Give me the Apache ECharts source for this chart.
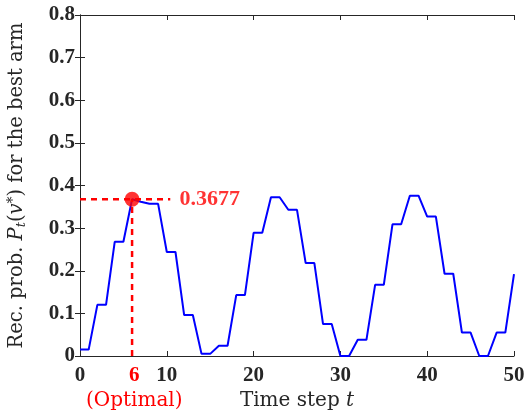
<!DOCTYPE html>
<html>
<head>
<meta charset="utf-8">
<script src="https://cdn.jsdelivr.net/npm/echarts@6/dist/echarts.min.js"></script>
<style>
  html, body { margin: 0; padding: 0; background: #fff; }
  #main { width: 528px; height: 411px; }
</style>
</head>
<body>
<div id="main"></div>
<script>
// time steps and recommendation prob for the best arm
var timeSteps = [0,1,2,3,4,5,6,7,8,9,10,11,12,13,14,15,16,17,18,19,20,21,22,23,24,25,
  26,27,28,29,30,31,32,33,34,35,36,37,38,39,40,41,42,43,44,45,46,47,48,49,50];
var recProb = [0.015,0.015,0.12,0.12,0.268,0.268,0.3677,0.362,0.357,0.357,0.244,0.244,
  0.096,0.096,0.005,0.005,0.024,0.024,0.143,0.143,0.289,0.289,0.3725,0.3725,0.343,0.343,
  0.218,0.218,0.075,0.075,0,0,0.038,0.038,0.167,0.167,0.309,0.309,0.376,0.376,
  0.327,0.327,0.193,0.193,0.055,0.055,0,0,0.055,0.055,0.192];
var xTicks = [0, 10, 20, 30, 40, 50];
var yTicks = [0, 0.1, 0.2, 0.3, 0.4, 0.5, 0.6, 0.7, 0.8];
var optStep = 6;
var optValue = 0.3677;
var hLineEnd = 10.4;

var tickFont = "'Liberation Serif', serif";
var nameFont = "'DejaVu Serif', serif";
var axisColor = '#262626';
var red = '#ff0000';

var myChart = echarts.init(document.getElementById('main'));

var lineData = timeSteps.map(function (t, i) { return [t, recProb[i]]; });

var option = {
  animation: false,
  grid: { left: 80, right: 14, top: 15, bottom: 55, containLabel: false, outerBoundsMode: 'none' },
  xAxis: [
    {
      type: 'value', min: xTicks[0], max: xTicks[xTicks.length - 1], interval: 10,
      position: 'bottom',
      name: 'Time step {i|t}', nameLocation: 'middle', nameGap: 35,
      nameTextStyle: {
        fontFamily: nameFont, fontSize: 20, color: axisColor,
        rich: { i: { fontFamily: nameFont, fontSize: 20, fontStyle: 'italic', color: axisColor } }
      },
      axisLine: { show: true, lineStyle: { color: axisColor, width: 1 } },
      axisTick: { show: true, inside: true, length: 5, lineStyle: { color: axisColor } },
      axisLabel: { margin: 9, fontFamily: tickFont, fontSize: 21, fontWeight: 'bold', color: axisColor },
      splitLine: { show: false }
    },
    {
      // red tick label for the optimal step
      type: 'value', min: 0, max: 48, interval: optStep, position: 'bottom',
      gridIndex: 0,
      axisLine: { show: false }, axisTick: { show: false }, splitLine: { show: false },
      axisLabel: {
        margin: 9, showMinLabel: true,
        formatter: function (v) { return v === optStep ? '{r|' + v + '}\n{o|(Optimal)}' : ''; },
        rich: {
          r: { fontFamily: tickFont, fontSize: 21, fontWeight: 'bold', color: red, lineHeight: 22 },
          o: { fontFamily: nameFont, fontSize: 20, color: red, lineHeight: 27 }
        }
      }
    },
    {
      type: 'value', min: 0, max: 50, interval: 10, position: 'top',
      axisLine: { show: true, lineStyle: { color: axisColor, width: 1 } },
      axisTick: { show: true, inside: true, length: 5, lineStyle: { color: axisColor } },
      axisLabel: { show: false }, splitLine: { show: false }
    }
  ],
  yAxis: [
    {
      type: 'value', min: yTicks[0], max: yTicks[yTicks.length - 1], interval: 0.1,
      position: 'left',
      name: 'Rec. prob. {i|P}{s|t}({i|v}{u|*}) for the best arm',
      nameLocation: 'middle', nameGap: 52, nameRotate: 90,
      nameTextStyle: {
        fontFamily: nameFont, fontSize: 19.5, color: axisColor,
        rich: {
          i: { fontFamily: nameFont, fontSize: 19.5, fontStyle: 'italic', color: axisColor },
          s: { fontFamily: nameFont, fontSize: 13, fontStyle: 'italic', color: axisColor, verticalAlign: 'bottom', padding: [8, 0, 0, 0] },
          u: { fontFamily: nameFont, fontSize: 14, color: axisColor, verticalAlign: 'top', padding: [0, 0, 8, 0] }
        }
      },
      axisLine: { show: true, lineStyle: { color: axisColor, width: 1 } },
      axisTick: { show: true, inside: true, length: 5, lineStyle: { color: axisColor } },
      axisLabel: {
        margin: 5, fontFamily: tickFont, fontSize: 21, fontWeight: 'bold', color: axisColor,
        formatter: function (v) { return v === 0 ? '0' : v.toFixed(1); }
      },
      splitLine: { show: false }
    },
    {
      type: 'value', min: 0, max: 0.8, interval: 0.1, position: 'right',
      axisLine: { show: true, lineStyle: { color: axisColor, width: 1 } },
      axisTick: { show: true, inside: true, length: 5, lineStyle: { color: axisColor } },
      axisLabel: { show: false }, splitLine: { show: false }
    }
  ],
  series: [
    {
      type: 'line', data: lineData, showSymbol: false,
      lineStyle: { color: '#0000ff', width: 2 }, z: 2
    },
    {
      type: 'line', data: [[0, optValue], [hLineEnd, optValue]], showSymbol: false,
      lineStyle: { color: red, width: 2.5, type: [6, 5] }, z: 3
    },
    {
      type: 'line', data: [[optStep, 0], [optStep, optValue]], showSymbol: false,
      lineStyle: { color: red, width: 2.5, type: [6, 5] }, z: 3
    },
    {
      type: 'scatter', data: [[optStep, optValue]], symbolSize: 15,
      itemStyle: { color: red }, z: 4,
      label: {
        show: true, position: 'right', distance: 40, offset: [0, 0],
        formatter: String(optValue),
        fontFamily: tickFont, fontSize: 22, fontWeight: 'bold', color: red
      }
    }
  ]
};

myChart.setOption(option);
window.addEventListener('resize', function () { myChart.resize(); });
</script>
</body>
</html>
